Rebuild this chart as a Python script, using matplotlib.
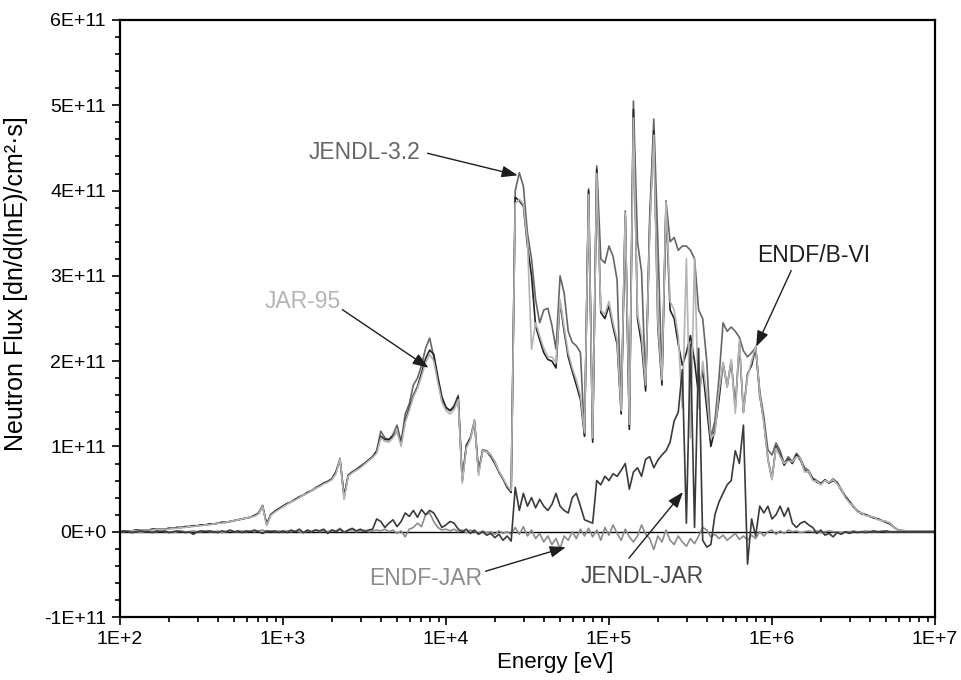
import numpy as np
import matplotlib
matplotlib.use("Agg")
import matplotlib.pyplot as plt
from matplotlib.ticker import FixedLocator, FixedFormatter, LogLocator, NullFormatter, MultipleLocator

plt.rcParams['font.family'] = ['Liberation Sans', 'DejaVu Sans']

# Equal-lethargy energy groups, 40 per decade from 100 eV to 10 MeV
log_energy = np.linspace(2.0, 7.0, 201)
energy = 10.0 ** log_energy

# Neutron flux per unit lethargy, in units of 1E+11
jendl32 = [
    0.01, 0.01, 0.01, 0.01, 0.02, 0.02, 0.02, 0.02, 0.03, 0.03,
    0.03, 0.03, 0.04, 0.04, 0.05, 0.05, 0.06, 0.06, 0.07, 0.07,
    0.08, 0.08, 0.09, 0.09, 0.10, 0.11, 0.11, 0.12, 0.13, 0.14,
    0.15, 0.16, 0.17, 0.19, 0.21, 0.31, 0.08, 0.20, 0.24, 0.27,
    0.30, 0.33, 0.35, 0.38, 0.40, 0.43, 0.46, 0.48, 0.52, 0.54,
    0.57, 0.59, 0.62, 0.70, 0.86, 0.40, 0.66, 0.70, 0.73, 0.77,
    0.80, 0.84, 0.88, 0.95, 1.18, 1.10, 1.08, 1.14, 1.25, 1.05,
    1.38, 1.50, 1.72, 1.80, 1.95, 2.15, 2.27, 2.05, 1.78, 1.55,
    1.45, 1.42, 1.48, 1.60, 0.60, 1.02, 1.10, 1.31, 0.70, 0.96,
    0.95, 0.90, 0.82, 0.70, 0.62, 0.53, 0.47, 4.00, 4.21, 4.05,
    3.50, 3.20, 2.72, 2.45, 2.60, 2.62, 2.42, 2.14, 3.00, 2.80,
    2.35, 2.22, 2.18, 2.10, 1.12, 4.02, 1.08, 4.29, 3.20, 3.15,
    3.35, 3.23, 2.95, 1.40, 3.76, 1.24, 5.05, 3.40, 3.05, 1.70,
    3.70, 4.84, 3.40, 1.79, 3.88, 3.40, 3.45, 3.30, 3.35, 3.35,
    3.30, 3.20, 2.60, 2.50, 2.00, 1.10, 1.30, 1.80, 2.45, 2.35,
    2.40, 2.35, 2.28, 2.12, 2.05, 2.10, 2.16, 1.65, 1.35, 0.96,
    0.90, 1.04, 0.95, 0.80, 0.88, 0.82, 0.92, 0.86, 0.75, 0.72,
    0.63, 0.60, 0.57, 0.60, 0.58, 0.62, 0.58, 0.50, 0.42, 0.36,
    0.30, 0.24, 0.22, 0.20, 0.18, 0.17, 0.15, 0.13, 0.12, 0.10,
    0.05, 0.02, 0.015, 0.01, 0.01, 0.01, 0.01, 0.01, 0.01, 0.01,
    0.01]

endfb6 = [
    0.01, 0.01, 0.01, 0.01, 0.02, 0.02, 0.02, 0.02, 0.03, 0.03,
    0.03, 0.03, 0.04, 0.04, 0.05, 0.05, 0.06, 0.06, 0.07, 0.07,
    0.08, 0.08, 0.09, 0.09, 0.10, 0.11, 0.11, 0.12, 0.13, 0.14,
    0.15, 0.16, 0.17, 0.19, 0.22, 0.30, 0.09, 0.20, 0.24, 0.27,
    0.30, 0.33, 0.35, 0.38, 0.41, 0.43, 0.46, 0.48, 0.51, 0.54,
    0.57, 0.59, 0.62, 0.70, 0.84, 0.42, 0.66, 0.70, 0.73, 0.76,
    0.80, 0.84, 0.88, 0.94, 1.12, 1.08, 1.08, 1.12, 1.18, 1.04,
    1.30, 1.45, 1.60, 1.70, 1.86, 2.03, 2.13, 2.08, 1.82, 1.58,
    1.46, 1.42, 1.46, 1.58, 0.60, 1.00, 1.10, 1.28, 0.70, 0.95,
    0.94, 0.88, 0.80, 0.70, 0.62, 0.52, 0.46, 3.92, 3.88, 3.82,
    3.35, 3.00, 2.41, 2.25, 2.10, 2.02, 2.00, 1.92, 2.70, 2.35,
    2.05, 1.88, 1.72, 1.55, 1.12, 4.00, 1.05, 4.25, 2.57, 2.50,
    2.65, 2.40, 2.20, 1.38, 3.70, 1.20, 4.95, 2.50, 2.20, 1.65,
    3.60, 4.70, 2.40, 1.72, 3.80, 2.60, 2.50, 2.20, 1.95, 2.10,
    2.30, 2.00, 1.60, 1.90, 1.45, 1.00, 1.20, 1.55, 1.98, 1.70,
    2.00, 1.45, 2.20, 1.40, 1.85, 1.95, 2.16, 1.60, 1.30, 0.85,
    0.62, 1.00, 0.90, 0.78, 0.85, 0.80, 0.90, 0.84, 0.72, 0.70,
    0.62, 0.58, 0.56, 0.61, 0.57, 0.60, 0.57, 0.49, 0.41, 0.35,
    0.29, 0.24, 0.21, 0.20, 0.18, 0.16, 0.15, 0.13, 0.11, 0.09,
    0.05, 0.02, 0.01, 0.01, 0.01, 0.01, 0.01, 0.01, 0.01, 0.01,
    0.01]

jar95 = [
    0.01, 0.01, 0.01, 0.01, 0.01, 0.02, 0.02, 0.02, 0.02, 0.03,
    0.03, 0.03, 0.03, 0.04, 0.04, 0.05, 0.05, 0.06, 0.06, 0.07,
    0.07, 0.08, 0.08, 0.09, 0.10, 0.10, 0.11, 0.12, 0.13, 0.14,
    0.15, 0.16, 0.17, 0.18, 0.21, 0.30, 0.07, 0.19, 0.23, 0.26,
    0.29, 0.32, 0.35, 0.37, 0.40, 0.43, 0.45, 0.48, 0.51, 0.53,
    0.56, 0.58, 0.61, 0.68, 0.85, 0.38, 0.65, 0.69, 0.72, 0.75,
    0.79, 0.83, 0.87, 0.92, 1.10, 1.06, 1.05, 1.10, 1.18, 1.00,
    1.28, 1.42, 1.58, 1.68, 1.82, 1.98, 2.08, 2.00, 1.75, 1.52,
    1.42, 1.38, 1.43, 1.55, 0.57, 0.98, 1.08, 1.30, 0.66, 0.95,
    0.94, 0.90, 0.82, 0.71, 0.63, 0.54, 0.48, 3.85, 3.90, 3.84,
    3.40, 2.14, 2.45, 2.30, 2.15, 2.05, 2.05, 1.98, 2.72, 2.40,
    2.10, 1.92, 1.78, 1.60, 1.16, 3.95, 1.10, 4.20, 2.60, 2.55,
    2.70, 2.45, 2.25, 1.42, 3.74, 1.26, 4.85, 2.55, 2.30, 1.72,
    3.55, 4.65, 2.45, 1.78, 3.86, 2.70, 2.60, 2.30, 1.45, 3.20,
    1.10, 3.20, 1.45, 2.00, 1.60, 1.10, 1.15, 1.65, 1.98, 1.70,
    2.02, 1.39, 2.25, 1.39, 1.82, 2.00, 2.18, 1.62, 1.28, 0.85,
    0.61, 0.98, 0.88, 0.80, 0.83, 0.82, 0.88, 0.86, 0.70, 0.71,
    0.60, 0.59, 0.55, 0.60, 0.58, 0.61, 0.56, 0.50, 0.40, 0.34,
    0.30, 0.23, 0.22, 0.19, 0.18, 0.17, 0.14, 0.13, 0.12, 0.10,
    0.05, 0.02, 0.01, 0.01, 0.01, 0.01, 0.01, 0.01, 0.01, 0.01,
    0.01]

# Differences between libraries, in units of 1E+11
endf_minus_jar = [
    0.00, 0.00, 0.01, 0.00, 0.00, -0.01, 0.00, 0.01, 0.00, 0.00,
    0.01, 0.00, 0.00, -0.01, 0.00, 0.01, 0.00, 0.00, 0.01, 0.00,
    0.00, 0.01, 0.00, 0.00, 0.01, -0.01, 0.00, 0.01, 0.00, 0.00,
    0.01, 0.00, 0.01, 0.00, 0.01, 0.02, 0.00, 0.01, 0.00, 0.01,
    0.00, 0.01, 0.00, 0.01, 0.00, -0.01, 0.01, 0.00, 0.02, 0.00,
    0.01, 0.00, 0.02, 0.01, 0.04, 0.00, 0.01, 0.02, 0.00, 0.01,
    0.02, 0.00, 0.01, 0.02, 0.01, 0.03, 0.00, 0.02, -0.02, 0.01,
    -0.06, 0.03, 0.05, 0.10, 0.06, 0.20, 0.22, 0.12, 0.05, 0.02,
    0.03, 0.01, 0.03, 0.00, 0.02, -0.01, 0.02, 0.00, -0.02, 0.01,
    -0.01, 0.00, -0.03, 0.01, -0.02, 0.00, -0.03, 0.05, -0.03, 0.06,
    -0.05, 0.02, -0.08, -0.02, -0.12, -0.05, -0.15, -0.08, -0.20, -0.05,
    -0.10, 0.00, -0.08, 0.03, -0.05, 0.04, -0.06, 0.02, -0.10, 0.05,
    -0.04, 0.08, -0.02, -0.10, 0.03, -0.06, -0.12, -0.05, 0.08, -0.03,
    -0.08, -0.21, -0.05, -0.12, 0.02, -0.10, -0.15, -0.05, -0.12, -0.17,
    -0.08, -0.14, -0.05, 0.05, 0.02, -0.06, -0.03, -0.08, -0.04, -0.10,
    -0.06, -0.02, -0.09, -0.05, -0.10, -0.04, -0.08, 0.00, -0.05, 0.00,
    0.02, -0.03, 0.01, -0.02, 0.02, 0.00, 0.01, -0.01, 0.00, 0.01,
    0.00, 0.01, -0.01, 0.00, 0.01, 0.00, 0.00, -0.01, 0.00, 0.00,
    0.01, 0.00, 0.00, 0.01, 0.00, 0.00, 0.00, 0.01, 0.00, 0.00,
    0.00, 0.00, 0.00, 0.00, 0.00, 0.00, 0.00, 0.00, 0.00, 0.00,
    0.00]

jendl_minus_jar = [
    0.00, 0.01, 0.00, -0.01, 0.00, 0.01, 0.00, 0.00, -0.01, 0.01,
    0.00, 0.01, -0.01, 0.00, 0.01, 0.00, -0.01, 0.00, -0.03, 0.00,
    0.01, 0.00, 0.01, 0.00, -0.01, 0.01, 0.00, 0.02, 0.00, 0.01,
    -0.01, 0.01, 0.00, 0.02, 0.00, -0.02, 0.01, 0.00, 0.01, -0.01,
    0.01, -0.01, 0.02, 0.00, 0.03, -0.01, 0.02, 0.00, 0.02, 0.01,
    0.03, -0.02, 0.02, 0.00, 0.03, -0.01, 0.02, 0.04, 0.01, 0.03,
    0.00, 0.02, 0.03, 0.15, 0.12, 0.05, 0.10, 0.14, 0.06, 0.12,
    0.22, 0.18, 0.25, 0.17, 0.26, 0.20, 0.25, 0.22, 0.14, 0.05,
    0.08, 0.12, 0.10, 0.03, 0.00, 0.03, -0.02, 0.02, -0.03, 0.00,
    -0.04, -0.02, -0.07, -0.03, -0.10, -0.05, -0.11, 0.52, 0.25, 0.45,
    0.30, 0.40, 0.28, 0.38, 0.30, 0.25, 0.32, 0.45, 0.30, 0.25,
    0.22, 0.40, 0.45, 0.30, 0.14, 0.12, 0.10, 0.60, 0.55, 0.65,
    0.60, 0.68, 0.65, 0.72, 0.80, 0.50, 0.70, 0.75, 0.65, 0.85,
    0.88, 0.75, 0.84, 0.90, 0.95, 1.05, 1.30, 1.40, 1.90, 0.10,
    2.20, 0.05, 2.15, -0.10, -0.18, -0.15, 0.20, 0.35, 0.45, 0.55,
    0.60, 0.95, 0.80, 1.25, -0.38, 0.15, -0.05, 0.30, 0.22, 0.30,
    0.15, 0.20, 0.30, 0.18, 0.28, 0.10, 0.05, 0.10, 0.12, 0.08,
    0.05, -0.02, 0.02, -0.04, -0.02, -0.06, -0.01, -0.03, 0.00, -0.02,
    0.00, -0.01, 0.00, -0.01, 0.00, 0.01, 0.00, 0.00, 0.01, 0.00,
    0.00, 0.00, 0.00, 0.00, 0.00, 0.00, 0.00, 0.00, 0.00, 0.00,
    0.00]

unit = 1e11
x_ticks = [1e2, 1e3, 1e4, 1e5, 1e6, 1e7]
x_tick_labels = ['1E+2', '1E+3', '1E+4', '1E+5', '1E+6', '1E+7']
y_ticks = [-1e11, 0, 1e11, 2e11, 3e11, 4e11, 5e11, 6e11]
y_tick_labels = ['-1E+11', '0E+0', '1E+11', '2E+11', '3E+11', '4E+11', '5E+11', '6E+11']

fig = plt.figure(figsize=(9.62, 6.80), dpi=100)
ax = fig.add_axes([0.1247, 0.0926, 0.8472, 0.878])

ax.axhline(0, color='black', lw=1.0, zorder=1)

series = [
    (jendl32, '#666666'),
    (endfb6, '#222222'),
    (jar95, '#b4b4b4'),
    (endf_minus_jar, '#8c8c8c'),
    (jendl_minus_jar, '#3a3a3a'),
]
for vals, col in series:
    ax.plot(energy, np.asarray(vals) * unit, color=col, lw=1.2, zorder=2)

ax.set_xscale('log')
ax.set_xlim(1e2, 1e7)
ax.set_ylim(-1e11, 6e11)

ax.xaxis.set_major_locator(FixedLocator(x_ticks))
ax.xaxis.set_major_formatter(FixedFormatter(x_tick_labels))
ax.xaxis.set_minor_locator(LogLocator(base=10, subs=np.arange(2, 10)))
ax.xaxis.set_minor_formatter(NullFormatter())
ax.yaxis.set_major_locator(FixedLocator(y_ticks))
ax.yaxis.set_major_formatter(FixedFormatter(y_tick_labels))
ax.yaxis.set_minor_locator(MultipleLocator(2e10))

ax.tick_params(which='both', direction='out', width=1.2, labelsize=14, top=False, right=False)
ax.tick_params(which='major', length=6, pad=4)
ax.tick_params(which='minor', length=3.5)
for sp in ax.spines.values():
    sp.set_linewidth(1.6)

ax.set_xlabel('Energy [eV]', fontsize=16)
ax.set_ylabel('Neutron Flux [dn/d(lnE)/cm²·s]', fontsize=18)
ax.xaxis.set_label_coords(0.534, -0.058)
ax.yaxis.set_label_coords(-0.113, 0.558)


def to_data(px, py):
    """Convert figure pixel coordinates (origin top-left) to data coordinates."""
    e = 10 ** (2 + (px - 120) / 162.7)
    f = (531.6 - py) / 85.1 * unit
    return e, f


labels = [
    ('JENDL-3.2', (364, 153), '#666666', (427, 154), (517, 176)),
    ('JAR-95', (302, 302), '#b4b4b4', (342, 310), (428, 368)),
    ('ENDF/B-VI', (812, 256), '#1e1e1e', (790, 271), (755, 347)),
    ('ENDF-JAR', (425, 578), '#8c8c8c', (485, 571), (565, 547)),
    ('JENDL-JAR', (641, 576), '#4a4a4a', (628, 558), (682, 492)),
]
for text, tpos, col, a0, a1 in labels:
    ax.text(*to_data(*tpos), text, color=col, fontsize=16.5, ha='center', va='center', zorder=5)
    ax.annotate('', xy=to_data(*a1), xytext=to_data(*a0),
                arrowprops=dict(arrowstyle='-|>,head_length=0.6,head_width=0.22',
                                mutation_scale=16, lw=1.0, color='#1e1e1e',
                                shrinkA=0, shrinkB=0), zorder=5)

fig.savefig('out.png', dpi=100)
